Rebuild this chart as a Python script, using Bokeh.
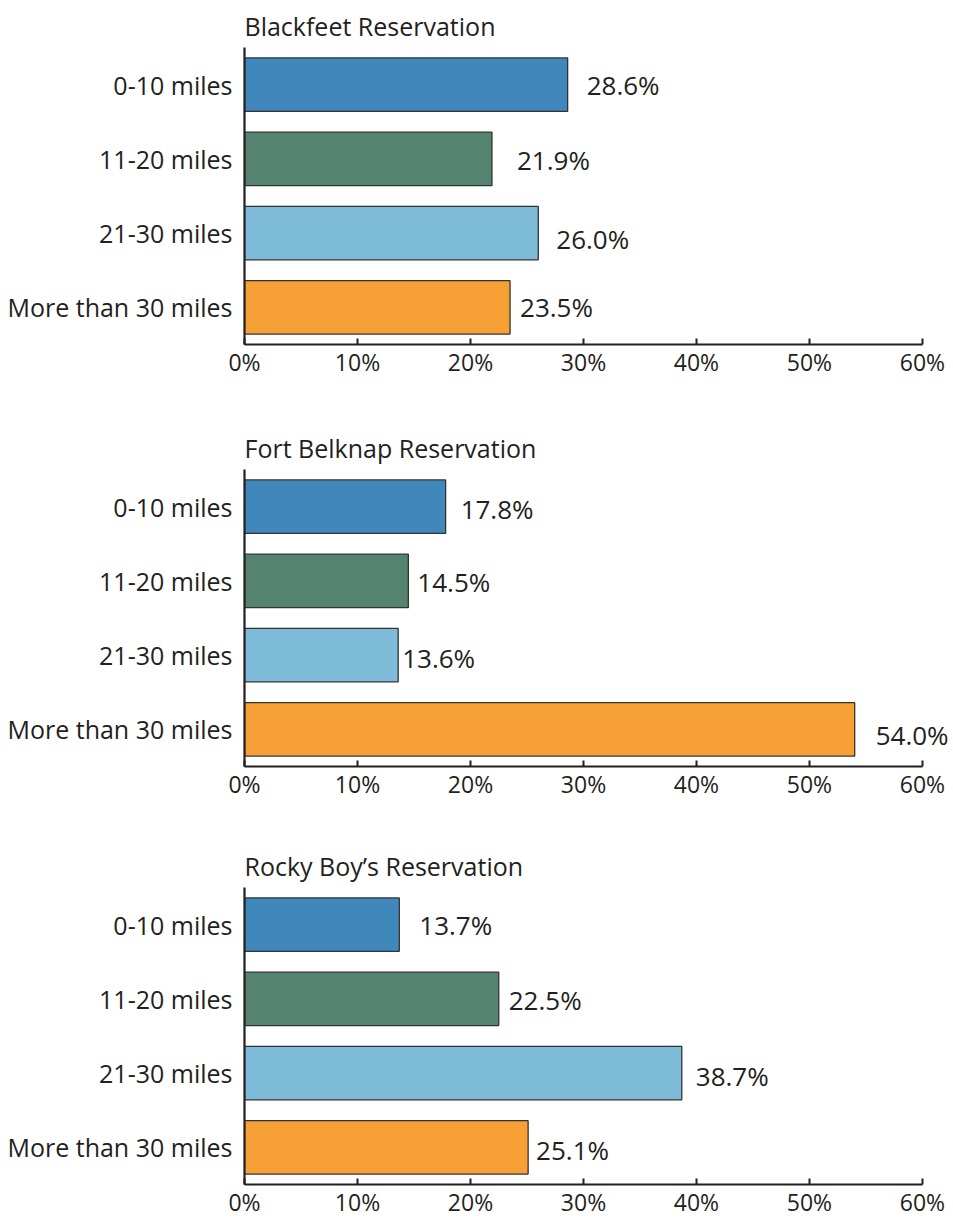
from bokeh.plotting import figure
from bokeh.layouts import column
from bokeh.models import (FactorRange, Range1d, FixedTicker, PrintfTickFormatter,
                          ColumnDataSource, LabelSet)
from bokeh.core.properties import value
from bokeh.embed import file_html
from bokeh.resources import INLINE

# ---- data ----
categories = ["0-10 miles", "11-20 miles", "21-30 miles", "More than 30 miles"]
titles = ["Blackfeet Reservation", "Fort Belknap Reservation", "Rocky Boy\u2019s Reservation"]
blackfeet = [28.6, 21.9, 26.0, 23.5]
fort_belknap = [17.8, 14.5, 13.6, 54.0]
rocky_boy = [13.7, 22.5, 38.7, 25.1]
series = [blackfeet, fort_belknap, rocky_boy]
x_ticks = [0, 10, 20, 30, 40, 50, 60]

# ---- styles ----
bar_colors = ["#4088bb", "#54846f", "#7dbbd8", "#f7a036"]
FONT = "Open Sans"
INK = "#231f20"
# per-label pixel nudges (x right, y down) as in the original layout
nudge_x = [[19, 25, 18, 10], [15, 9, 4, 21], [20, 10, 14, 8]]
nudge_y = [[0, 1, 6, 0], [2, 1, 3, 6], [0, 1, 3, 3]]
tops = [47, 89, 85]

figs = []
for i in range(3):
    vals = series[i]
    src = ColumnDataSource(dict(
        cat=categories, val=vals, color=bar_colors,
        label=["%.1f%%" % v for v in vals],
        dx=nudge_x[i], ndy=[-d for d in nudge_y[i]],
    ))
    p = figure(
        frame_width=706, frame_height=297,
        y_range=FactorRange(*reversed(categories), range_padding=0),
        x_range=Range1d(0, 62.48),
        output_backend="svg", toolbar_location=None, tools="",
        min_border_left=244, min_border_right=0,
        min_border_top=tops[i], min_border_bottom=0,
    )
    p.title.text = titles[i]
    p.title.text_font = FONT
    p.title.text_font_size = "25px"
    p.title.text_font_style = "normal"
    p.title.text_color = INK
    p.title.align = "left"
    p.title.standoff = 10

    p.hbar(y="cat", right="val", left=0, height=0.72, source=src,
           fill_color="color", line_color="#333333", line_width=1.3)
    labels = LabelSet(x="val", y="cat", text="label", source=src,
                      x_offset="dx", y_offset="ndy",
                      text_align="left", text_baseline="middle",
                      text_font=value(FONT), text_font_size=value("26px"),
                      text_color=INK)
    p.add_layout(labels)

    p.grid.visible = False
    p.outline_line_color = None
    p.background_fill_color = "white"
    p.border_fill_color = "white"

    xa = p.xaxis[0]
    xa.axis_label = None
    xa.bounds = (0, 60)
    xa.ticker = FixedTicker(ticks=x_ticks)
    xa.formatter = PrintfTickFormatter(format="%d%%")
    xa.axis_line_width = 2.2
    xa.axis_line_color = INK
    xa.major_tick_in = 6
    xa.major_tick_out = 0
    xa.major_tick_line_width = 2
    xa.major_tick_line_color = INK
    xa.minor_tick_line_color = None
    xa.major_label_text_font = FONT
    xa.major_label_text_font_size = "23px"
    xa.major_label_text_color = INK
    xa.major_label_standoff = 1

    ya = p.yaxis[0]
    ya.axis_label = None
    ya.axis_line_width = 2.2
    ya.axis_line_color = INK
    ya.major_tick_line_color = None
    ya.minor_tick_line_color = None
    ya.major_label_text_font = FONT
    ya.major_label_text_font_size = "25px"
    ya.major_label_text_color = INK
    ya.major_label_standoff = 6
    figs.append(p)

layout = column(*figs, spacing=0)
open("out.html", "w").write(file_html(layout, INLINE))
